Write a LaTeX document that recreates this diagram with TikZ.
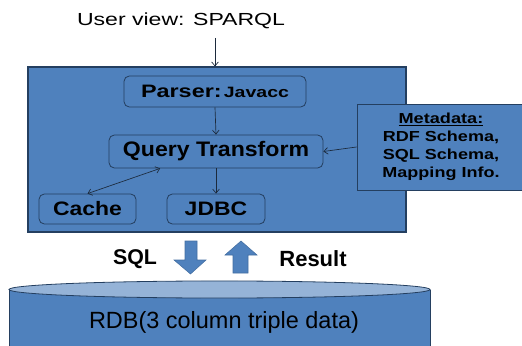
\documentclass[tikz,border=0pt]{standalone}
\usepackage{fontspec}
\setmainfont{Liberation Sans}
\usetikzlibrary{arrows.meta,calc}
\definecolor{boxblue}{HTML}{4F81BD}
\definecolor{topblue}{HTML}{95B3D7}
\definecolor{edgec}{HTML}{243F60}
\definecolor{linec}{HTML}{1C2A3C}
\newcommand{\myfs}[1]{\fontsize{#1}{#1}\selectfont}
\newcommand{\hsx}[2]{\scalebox{#1}[1]{#2}}
\begin{document}
\begin{tikzpicture}[x=0.75pt,y=-0.75pt,
  rbox/.style={draw=edgec, line width=0.6pt, fill=boxblue, rounded corners=4pt, inner sep=0pt, align=center, text=black},
  conn/.style={draw=linec, line width=0.5pt, -{Straight Barb[length=3pt,width=5pt]}},
  biconn/.style={draw=linec, line width=0.5pt, {Straight Barb[length=3pt,width=5pt]}-{Straight Barb[length=3pt,width=5pt]}},
  blockarrow/.style={fill=boxblue, draw=boxblue!85!black, line width=0.4pt},
]
\useasboundingbox (0,0) rectangle (522,346);
\clip (0,0) rectangle (522,346);
% title
\node (title) at (181,21) {\myfs{13.1pt}\hsx{1.32}{User view: SPARQL}};
% main box
\node[draw=edgec, line width=0.8pt, fill=boxblue, minimum width=283.5pt, minimum height=123.75pt, inner sep=0pt] (main) at (217,149.5) {};
\coordinate (u) at (215,38);
\draw[conn] (u) -- (main.north -| u);
% inner boxes
\node[rbox, minimum width=136.5pt, minimum height=23.25pt] (parser) at (215,91.5)
  {\hsx{1.3}{\myfs{13.5pt}\bfseries Parser:}\,\hsx{1.3}{\myfs{11.25pt}\bfseries Javacc}};
\node[rbox, minimum width=160.5pt, minimum height=24.75pt] (qt) at (216,151.5)
  {\hsx{1.1}{\myfs{15.75pt}\bfseries Query Transform}};
\node[rbox, minimum width=72.75pt, minimum height=22.5pt] (cache) at (87.5,209)
  {\hsx{1.18}{\myfs{14.6pt}\bfseries Cache}};
\node[rbox, minimum width=73.5pt, minimum height=22.5pt] (jdbc) at (216,209)
  {\hsx{1.18}{\myfs{14.6pt}\bfseries JDBC}};
% metadata box
\node[draw=edgec, line width=0.7pt, fill=boxblue, minimum width=126pt, minimum height=64.5pt, inner sep=0pt, align=center, font=\fontsize{10.9pt}{13.5pt}\selectfont\bfseries] (meta) at (441,147)
  {\hsx{1.25}{\underline{Metadata:}}\\ \hsx{1.24}{RDF Schema,}\\ \hsx{1.24}{SQL Schema,}\\ \hsx{1.24}{Mapping Info.}};
% connectors
\draw[conn] (parser.south) -- (qt.north);
\draw[conn] (qt.south) -- (jdbc.north);
\draw[conn] (meta.west) -- (qt.east);
\draw[biconn] (cache.north) -- ($(qt.south west)!0.24!(qt.south east)$);
% SQL / Result
\node (sql) at (135,259.5) {\myfs{16pt}\bfseries SQL};
\node (result) at (313,259) {\myfs{16.5pt}\bfseries Result};
\draw[blockarrow] (185,241) -- (197,241) -- (197,260) -- (206,260) -- (190.5,274) -- (174,260) -- (185,260) -- cycle;
\draw[blockarrow] (241,241) -- (257,255) -- (248,255) -- (248,273) -- (233,273) -- (233,255) -- (225,255) -- cycle;
% cylinder
\fill[boxblue] (9,289.5) rectangle (430,350);
\draw[edgec, line width=0.6pt] (9,289.5) -- (9,350) (430,289.5) -- (430,350);
\draw[edgec, line width=0.6pt, fill=topblue] (219.5,289.5) ellipse [x radius=157.9pt, y radius=6.4pt];
\node (rdb) at (224,322.5) {\myfs{17.6pt}RDB(3 column triple data)};
\end{tikzpicture}
\end{document}
